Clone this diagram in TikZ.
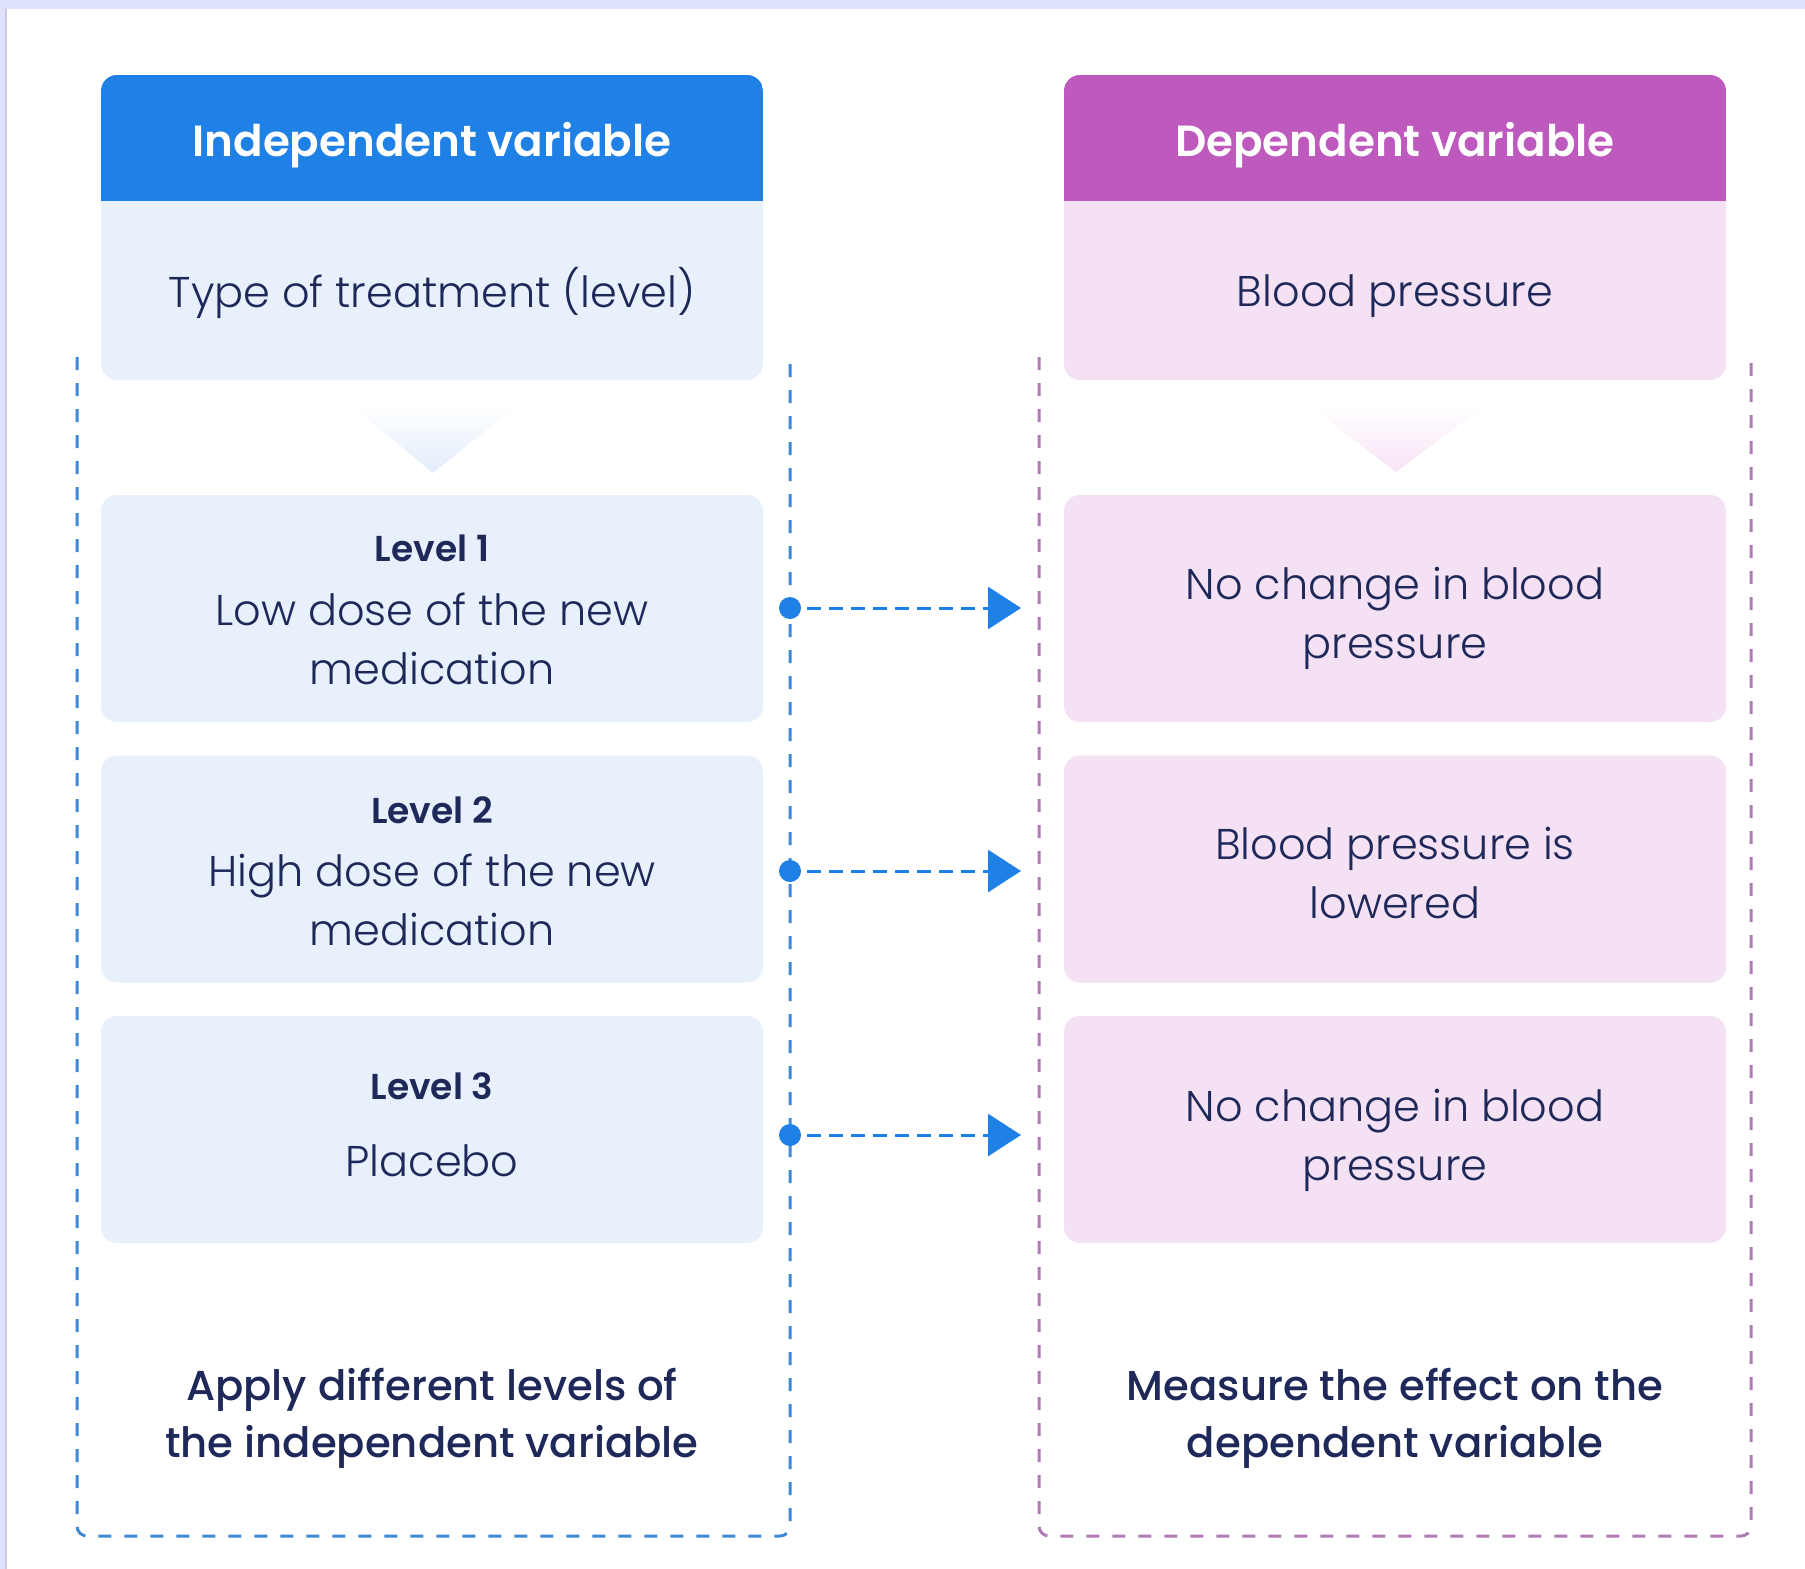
\documentclass[tikz,border=0pt]{standalone}
\usepackage{fontspec}
\setmainfont{Poppins}
\newfontfamily\lightfont{Poppins Light}
\newfontfamily\medfont{Poppins Medium}
\newfontfamily\semifont{Poppins SemiBold}
\usetikzlibrary{arrows.meta}

\definecolor{ivblue}{HTML}{1F80E6}
\definecolor{dvpurple}{HTML}{BE59BD}
\definecolor{ivlight}{HTML}{E7F0FB}
\definecolor{dvlight}{HTML}{F4E2F4}
\definecolor{navy}{HTML}{1E2859}
\definecolor{ivdash}{HTML}{3E89D5}
\definecolor{dvdash}{HTML}{B27AB9}
\definecolor{framebg}{HTML}{DEE1FB}
\definecolor{frameline}{HTML}{C9CADC}
\definecolor{ivtri}{HTML}{E2ECFA}
\definecolor{dvtri}{HTML}{F7E3F6}

\begin{document}
\begin{tikzpicture}[x=0.5pt,y=-0.5pt,
  headtext/.style={text=white,font=\semifont\fontsize{21.8}{26}\selectfont},
  bodytext/.style={text=navy,align=center,font=\lightfont\fontsize{21.5}{29.5}\selectfont},
  leveltext/.style={text=navy,font=\semifont\fontsize{18}{21}\selectfont},
  foottext/.style={text=navy,align=center,font=\medfont\fontsize{20.9}{28.5}\selectfont},
  levelbox/.style={rectangle,rounded corners=8pt,minimum width=331pt,minimum height=113.5pt,
    inner sep=0pt},
  card/.style={rectangle,rounded corners=8pt,minimum width=331pt,minimum height=152.5pt,inner sep=0pt},
  container/.style={line width=1.5pt,dash pattern=on 6.5pt off 6.5pt,rounded corners=5pt},
  dot/.style={circle,fill=ivblue,inner sep=0pt,minimum size=11pt},
  flow/.style={ivblue,line width=1.5pt,dash pattern=on 7pt off 4pt,shorten <=3pt,
    -{Triangle[length=16.5pt,width=21pt]}},
]
\useasboundingbox (0,0) rectangle (1805,1569);
\fill[white] (0,0) rectangle (1805,1569);
\fill[framebg] (0,0) rectangle (1805,9);
\fill[framebg] (0,0) rectangle (5,1569);
\fill[frameline] (5,9) rectangle (7.3,1569);

% dashed containers around each column
\draw[container,ivdash] (77,357) -- (77,1536) -- (790,1536) -- (790,357);
\draw[container,dvdash] (1039,357) -- (1039,1536) -- (1751,1536) -- (1751,357);

% column cards: coloured header over a light body
\node[card,fill=ivlight] (ivcard) at (432,227.5) {};
\begin{scope}
  \clip[rounded corners=8pt] (101,75) rectangle (763,380);
  \fill[ivblue] (101,75) rectangle (763,201);
\end{scope}
\node[card,fill=dvlight] (dvcard) at (1395,227.5) {};
\begin{scope}
  \clip[rounded corners=8pt] (1064,75) rectangle (1726,380);
  \fill[dvpurple] (1064,75) rectangle (1726,201);
\end{scope}

\node[headtext] (ivhead) at (432,145) {Independent variable};
\node[headtext] (dvhead) at (1395,145) {Dependent variable};
\node[bodytext] (ivname) at (432,293) {Type of treatment (level)};
\node[bodytext] (dvname) at (1395,296) {Blood pressure};

% soft pointers below the cards
\shade[top color=white,bottom color=ivtri] (351,405) -- (517,405) -- (433,473) -- cycle;
\shade[top color=white,bottom color=dvtri] (1309,405) -- (1485,405) -- (1396,472) -- cycle;

% levels of the independent variable
\node[levelbox,fill=ivlight] (iv1) at (432,608.5) {};
\node[levelbox,fill=ivlight] (iv2) at (432,869) {};
\node[levelbox,fill=ivlight] (iv3) at (432,1129.5) {};
\node[leveltext] (iv1lab) at (432,548) {Level 1};
\node[bodytext] (iv1txt) at (432,639) {Low dose of the new\\ medication};
\node[leveltext] (iv2lab) at (432,810) {Level 2};
\node[bodytext] (iv2txt) at (432,900) {High dose of the new\\ medication};
\node[leveltext] (iv3lab) at (432,1086) {Level 3};
\node[bodytext] (iv3txt) at (432,1161) {Placebo};

% measured outcomes
\node[levelbox,fill=dvlight] (dv1) at (1395,608.5) {};
\node[levelbox,fill=dvlight] (dv2) at (1395,869) {};
\node[levelbox,fill=dvlight] (dv3) at (1395,1129.5) {};
\node[bodytext] (dv1txt) at (1395,618) {No change in blood\\ pressure};
\node[bodytext] (dv2txt) at (1395,873) {Blood pressure is\\ lowered};
\node[bodytext] (dv3txt) at (1395,1140) {No change in blood\\ pressure};

% links from each level to its outcome
\node[dot] (s1) at (790,608) {};
\node[dot] (s2) at (790,871) {};
\node[dot] (s3) at (790,1135) {};
\coordinate (t1) at (1021,608);
\coordinate (t2) at (1021,871);
\coordinate (t3) at (1021,1135);
\draw[flow] (s1) -- (t1);
\draw[flow] (s2) -- (t2);
\draw[flow] (s3) -- (t3);

% captions
\node[foottext] (ivfoot) at (432,1418) {Apply different levels of\\ the independent variable};
\node[foottext] (dvfoot) at (1395,1418) {Measure the effect on the\\ dependent variable};
\end{tikzpicture}
\end{document}
